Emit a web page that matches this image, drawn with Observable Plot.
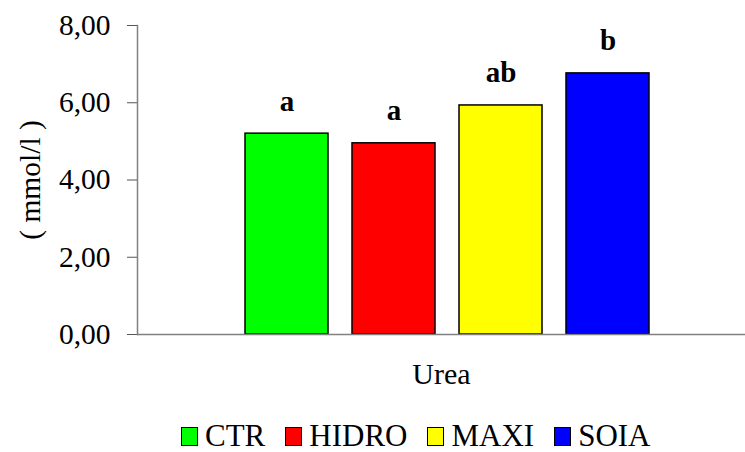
<!DOCTYPE html>
<html>
<head>
<meta charset="utf-8">
<script src="https://cdn.jsdelivr.net/npm/d3@7"></script>
<script src="https://cdn.jsdelivr.net/npm/@observablehq/plot@0.6"></script>
<style>
  html, body { margin: 0; padding: 0; background: white; overflow: hidden; }
  #legend { font-family: "Liberation Serif", "Times New Roman", Times, serif; font-size: 31px; line-height: 36px; color: #000; }
  #legend .row { display: flex; align-items: baseline; margin-left: 181px; white-space: nowrap; }
  #legend .sw { display: inline-block; width: 17px; height: 19px; border: 1.5px solid #000; box-sizing: border-box; margin-right: 7px; }
  #legend .item { display: inline-flex; align-items: baseline; margin-right: 20px; }
</style>
</head>
<body>
<div id="chart"></div>
<div id="legend"></div>
<script>
const groups = ["CTR", "HIDRO", "MAXI", "SOIA"];
const values = [5.20, 4.95, 5.93, 6.76];
const letters = ["a", "a", "ab", "b"];
const colors = ["#00ff00", "#ff0000", "#ffff00", "#0000ff"];
const category = "Urea";
const yTicks = [0, 2, 4, 6, 8];
const yLabel = "( mmol/l )";

const data = groups.map((g, i) => ({group: g, value: values[i], letter: letters[i], cat: category}));

const serif = '"Liberation Serif", "Times New Roman", Times, serif';

const chart = Plot.plot({
  width: 745,
  height: 418,
  marginLeft: 137,
  marginRight: 0,
  marginTop: 25,
  marginBottom: 84,
  style: {fontFamily: serif, background: "white", color: "#000"},
  fx: {domain: [category], padding: 0, label: null},
  x: {domain: groups, paddingInner: 0.222, paddingOuter: 0.926, align: 0.53, axis: null},
  y: {domain: [0, 8]},
  color: {domain: groups, range: colors},
  marks: [
    Plot.axisY({ticks: yTicks, tickSize: 10, tickPadding: 17, tickFormat: d => d.toFixed(2).replace(".", ","),
      fontSize: 29.5, label: yLabel, labelAnchor: "center", labelOffset: 118, labelArrow: "none", stroke: "#555"}),
    Plot.axisFx({anchor: "bottom", tickSize: 0, tickPadding: 28, fontSize: 30, label: null}),
    Plot.barY(data, {fx: "cat", x: "group", y: "value", fill: "group", stroke: "black", strokeWidth: 1.5}),
    Plot.text(data, {fx: "cat", x: "group", y: "value", text: "letter", dy: -23, lineAnchor: "bottom", fontWeight: "bold", fontSize: 29}),
    Plot.ruleY([0], {stroke: "#808080", strokeWidth: 1.5}),
    Plot.frame({anchor: "left", stroke: "#808080", strokeWidth: 1.5})
  ]
});
document.getElementById("chart").appendChild(chart);

const legend = document.getElementById("legend");
const row = document.createElement("div");
row.className = "row";
groups.forEach((g, i) => {
  const item = document.createElement("span");
  item.className = "item";
  const sw = document.createElement("span");
  sw.className = "sw";
  sw.style.background = colors[i];
  const t = document.createElement("span");
  t.textContent = g;
  item.appendChild(sw);
  item.appendChild(t);
  row.appendChild(item);
});
legend.appendChild(row);
</script>
</body>
</html>
